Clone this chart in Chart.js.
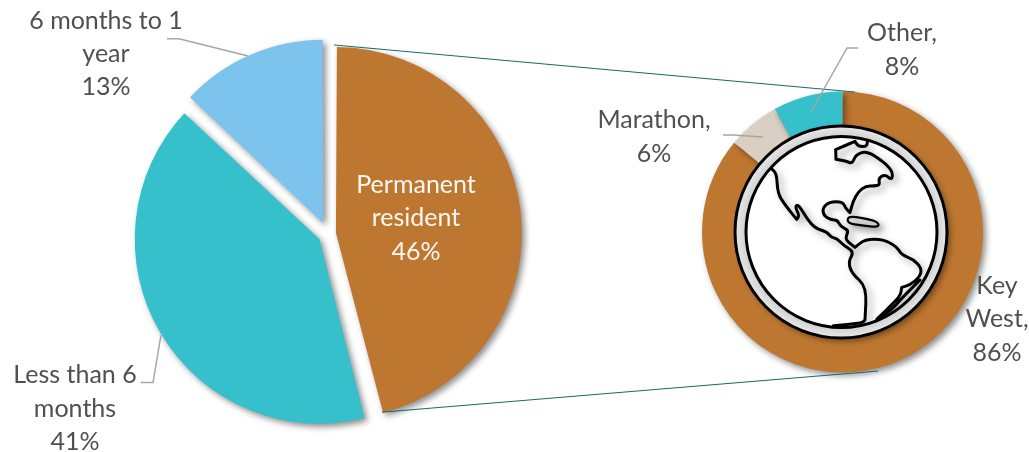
<!DOCTYPE html>
<html>
<head>
<meta charset="utf-8">
<style>
html,body{margin:0;padding:0;background:#fff;width:1029px;height:452px;overflow:hidden}
canvas{position:absolute;left:0;top:0}
</style>
<script src="https://cdn.jsdelivr.net/npm/chart.js@4"></script>
</head>
<body>
<canvas id="stay" width="1029" height="452"></canvas>
<canvas id="place" width="1029" height="452"></canvas>
<script>
const stayCategories = ['Permanent resident', 'Less than 6 months', '6 months to 1 year'];
const stayValues = [46, 41, 13];
const stayColors = ['#BE7730', '#36C0CC', '#7CC4EE'];
const stayOffsets = [32, 40, 48];
const placeCategories = ['Key West', 'Marathon', 'Other'];
const placeValues = [86, 6, 8];
const placeColors = ['#BE7730', '#D9CFC3', '#36C0CC'];

const FONT = '25px "Lato", "Noto Sans", sans-serif';
const TEXT = '#505050';
const stayLabelLayout = [
  {lines:['Permanent','resident'], x:416, y:[185,218,252], color:'#FDF8F2'},
  {lines:['Less than 6','months'], x:75, y:[375,409,442], color:TEXT},
  {lines:['6 months to 1','year'], x:106, y:[21,54,87], color:TEXT}
];
const placeLabelLayout = [
  {lines:['Key','West,'], x:997, y:[286,319,353], color:TEXT},
  {lines:['Marathon,'], x:654, y:[120,154], color:TEXT},
  {lines:['Other,'], x:902, y:[33,67], color:TEXT}
];
const stayLeaders = [[[141,382.5],[153,382.5],[161,335]], [[167,38.7],[179,38.7],[248,56]]];
const placeLeaders = [[[723,135],[733,135],[763,137]], [[858,48],[847,48],[811,112]]];

// Globe icon outline, traced in its own 3x drawing units (a repeated point keeps a sharp corner)
const iconOrigin = [690,80], iconScale = 1/3;
const landPaths = [
 {closed:false, pts:[[532,186],[532,186],[530,200],[505,199],[495,184],[495,184],[437,209],[437,209],[438,238],[438,238],[470,244],[487,251],[497,224],[530,213],[580,245],[608,274],[606,301],[585,283],[565,295],[570,315],[553,318],[527,318],[505,335],[490,362],[480,398],[480,398],[467,385],[458,365],[418,365],[397,385],[402,408],[425,420],[442,420],[452,440],[475,450],[470,465],[467,480],[495,502],[495,502],[525,478],[580,478],[620,500],[635,525],[670,538],[695,565],[690,590],[660,615],[635,622],[635,622],[632,645],[615,665],[560,718],[560,718],[605,690],[635,655],[690,600]]},
 {closed:false, pts:[[243,265],[243,265],[260,280],[263,340],[285,375],[320,418],[320,418],[328,407],[315,380],[325,373],[350,415],[375,445],[410,455],[425,473],[440,475],[462,497],[492,515],[475,545],[485,580],[530,620],[525,720],[525,720],[515,730],[430,737],[430,737]]},
 {closed:true, pts:[[473,410],[505,411],[565,425],[566,442],[515,436],[473,430]]}
];

function shadow(ctx, on){
  if(on){ctx.shadowColor='rgba(0,0,0,0.45)';ctx.shadowBlur=6;ctx.shadowOffsetX=3;ctx.shadowOffsetY=3;}
  else{ctx.shadowColor='transparent';ctx.shadowBlur=0;ctx.shadowOffsetX=0;ctx.shadowOffsetY=0;}
}
function drawLeaders(ctx, leaders){
  ctx.save();ctx.strokeStyle='#A6A6A6';ctx.lineWidth=1.5;
  leaders.forEach(l=>{ctx.beginPath();l.forEach((p,i)=>i?ctx.lineTo(p[0],p[1]):ctx.moveTo(p[0],p[1]));ctx.stroke();});
  ctx.restore();
}
function drawLabels(ctx, layout, values){
  ctx.save();ctx.font=FONT;ctx.textAlign='center';ctx.textBaseline='middle';
  layout.forEach((l,i)=>{
    ctx.fillStyle=l.color;
    const all=l.lines.concat([values[i]+'%']);
    all.forEach((t,j)=>ctx.fillText(t,l.x,l.y[j]));
  });
  ctx.restore();
}
function smooth(ctx, pts, closed, map){
  const q=pts.map(map), n=q.length;
  const mid=(a,b)=>[(a[0]+b[0])/2,(a[1]+b[1])/2];
  ctx.beginPath();
  if(closed){
    let s=mid(q[n-1],q[0]);ctx.moveTo(s[0],s[1]);
    for(let i=0;i<n;i++){const m=mid(q[i],q[(i+1)%n]);ctx.quadraticCurveTo(q[i][0],q[i][1],m[0],m[1]);}
    ctx.closePath();
  }else{
    ctx.moveTo(q[0][0],q[0][1]);
    for(let i=1;i<n-1;i++){const m=mid(q[i],q[i+1]);ctx.quadraticCurveTo(q[i][0],q[i][1],m[0],m[1]);}
    ctx.lineTo(q[n-1][0],q[n-1][1]);
  }
}
function drawGlobe(ctx, cx, cy){
  ctx.save();
  const R1=106,R2=95.5;
  shadow(ctx,true);
  ctx.fillStyle='#fff';ctx.beginPath();ctx.arc(cx,cy,R1,0,Math.PI*2);ctx.fill();
  shadow(ctx,false);
  const g=ctx.createRadialGradient(cx,cy,R2,cx,cy,R1);
  g.addColorStop(0,'#d0d0d0');g.addColorStop(1,'#e8e8e8');
  ctx.fillStyle=g;ctx.beginPath();ctx.arc(cx,cy,R1,0,Math.PI*2);ctx.fill();
  ctx.strokeStyle='#000';ctx.lineWidth=3;ctx.beginPath();ctx.arc(cx,cy,R1,0,Math.PI*2);ctx.stroke();
  ctx.fillStyle='#fff';ctx.beginPath();ctx.arc(cx+0.5,cy,R2,0,Math.PI*2);ctx.fill();
  ctx.strokeStyle='#000';ctx.beginPath();ctx.arc(cx+0.5,cy,R2,0,Math.PI*2);ctx.stroke();
  ctx.beginPath();ctx.arc(cx+0.5,cy,R2,0,Math.PI*2);ctx.clip();
  const map=p=>[iconOrigin[0]+p[0]*iconScale,iconOrigin[1]+p[1]*iconScale];
  ctx.lineJoin='round';ctx.lineCap='round';ctx.strokeStyle='#000';
  ctx.shadowColor='rgba(0,0,0,0.35)';ctx.shadowBlur=7;ctx.shadowOffsetX=4;ctx.shadowOffsetY=4;
  landPaths.forEach(lp=>{
    smooth(ctx,lp.pts,lp.closed,map);
    ctx.lineWidth=lp.closed?2.2:3;
    if(lp.closed){ctx.fillStyle='#e4e4e4';ctx.fill();}
    ctx.stroke();
  });
  ctx.restore();
}
// Chart.js shifts an arc by offset/4 and widens it by that shift times (1 - sin(sweep)).
function arcCorner(arc, angle, extra){
  const mid=(arc.startAngle+arc.endAngle)/2, o=(arc.options.offset||0)/4;
  const sweep=Math.min(Math.PI,arc.endAngle-arc.startAngle);
  const r=arc.outerRadius+o*(1-Math.sin(sweep))+(extra||0);
  return [arc.x+Math.cos(mid)*o+Math.cos(angle)*r, arc.y+Math.sin(mid)*o+Math.sin(angle)*r];
}

const shadowPlugin={id:'shadowPlugin',
  beforeDatasetsDraw(c){c.ctx.save();shadow(c.ctx,true);},
  afterDatasetsDraw(c){c.ctx.restore();}
};
const common={responsive:false,animation:false,events:[],plugins:{legend:{display:false},tooltip:{enabled:false},title:{display:false}}};

const stayChart=new Chart(document.getElementById('stay'),{
  type:'pie',
  data:{labels:stayCategories,datasets:[{data:stayValues,backgroundColor:stayColors,borderWidth:0,offset:stayOffsets}]},
  options:Object.assign({},common,{radius:180,layout:{padding:{left:0,right:373,top:16,bottom:0}}}),
  plugins:[shadowPlugin,{id:'stayText',afterDraw(c){
    drawLeaders(c.ctx,stayLeaders);
    drawLabels(c.ctx,stayLabelLayout,stayValues);
  }}]
});

new Chart(document.getElementById('place'),{
  type:'doughnut',
  data:{labels:placeCategories,datasets:[{data:placeValues,backgroundColor:placeColors,borderWidth:0}]},
  options:Object.assign({},common,{radius:140.5,cutout:'74%',layout:{padding:{left:656,right:0,top:12,bottom:0}}}),
  plugins:[shadowPlugin,{id:'placeDecor',afterDraw(c){
    const ctx=c.ctx, a=c.getDatasetMeta(0).data[0];
    drawGlobe(ctx,a.x-1.5,a.y);
    const b=stayChart.getDatasetMeta(0).data[0];
    const t0=arcCorner(b,b.startAngle,2), b0=arcCorner(b,b.endAngle,-1);
    const t1=arcCorner(a,-Math.PI/2+0.09,0), b1=arcCorner(a,Math.PI/2-0.25,3);
    ctx.save();ctx.strokeStyle='#17696B';ctx.lineWidth=1;
    ctx.beginPath();ctx.moveTo(t0[0]-2,t0[1]);ctx.lineTo(t1[0],t1[1]);ctx.stroke();
    ctx.beginPath();ctx.moveTo(b0[0],b0[1]);ctx.lineTo(b1[0],b1[1]);ctx.stroke();
    ctx.restore();
    drawLeaders(ctx,placeLeaders);
    drawLabels(ctx,placeLabelLayout,placeValues);
  }}]
});
</script>
</body>
</html>
